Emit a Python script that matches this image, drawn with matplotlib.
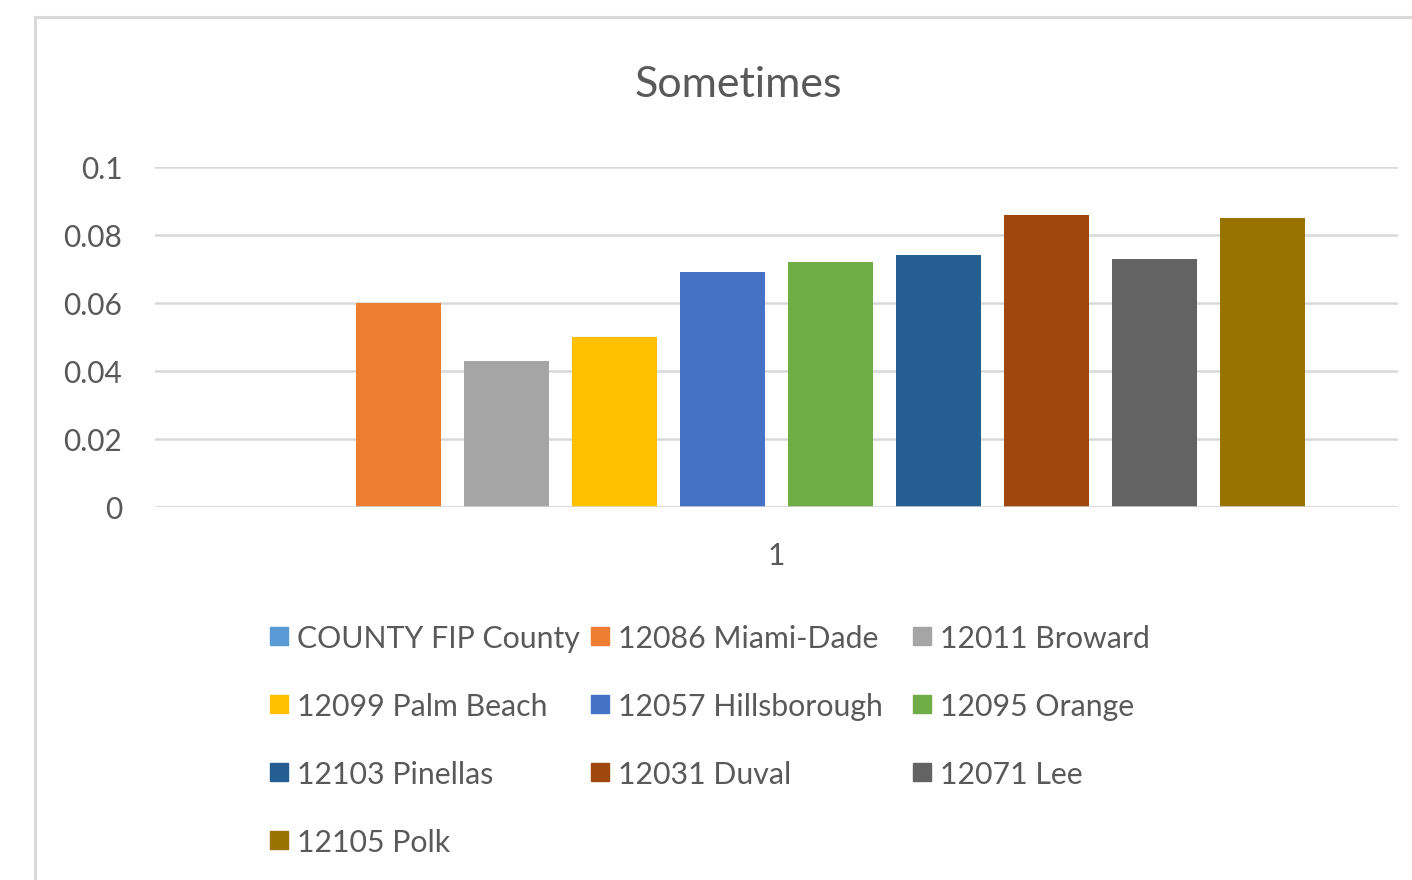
import matplotlib
matplotlib.use("Agg")
import matplotlib.pyplot as plt
from matplotlib.patches import Rectangle
from matplotlib.lines import Line2D

plt.rcParams['font.family'] = ['Lato', 'DejaVu Sans']

title = "Sometimes"
categories = ["1"]
series_names = ["COUNTY FIP County", "12086 Miami-Dade", "12011 Broward",
                "12099 Palm Beach", "12057 Hillsborough", "12095 Orange",
                "12103 Pinellas", "12031 Duval", "12071 Lee", "12105 Polk"]
values = [0.0, 0.060, 0.043, 0.050, 0.069, 0.072, 0.074, 0.086, 0.073, 0.085]
colors = ["#5B9BD5", "#ED7D31", "#A5A5A5", "#FFC000", "#4472C4", "#70AD47",
          "#255E91", "#9E480E", "#636363", "#997300"]
yticks = [0, 0.02, 0.04, 0.06, 0.08, 0.1]
ytick_labels = ["0", "0.02", "0.04", "0.06", "0.08", "0.1"]

W, H = 1412, 880
fig = plt.figure(figsize=(W / 100, H / 100), dpi=100)
txt = "#595959"
grid = "#D9D9D9"

# chart area border
fig.add_artist(Line2D([35 / W, 35 / W], [0, 1 - 17 / H], color=grid, lw=2.2,
                      transform=fig.transFigure))
fig.add_artist(Line2D([35 / W, 1], [1 - 17 / H, 1 - 17 / H], color=grid, lw=2.2,
                      transform=fig.transFigure))

ax = fig.add_axes([155 / W, 1 - 507 / H, (1398 - 155) / W, 340 / H])
n = len(series_names)
step = 1.0
half = (1398 - 155) / 108 / 2
for i, (name, v, c) in enumerate(zip(series_names, values, colors)):
    ax.bar((i - (n - 1) / 2) * step, v, width=0.79, color=c, zorder=3, label=name)

ax.set_xlim(-half, half)
ax.set_ylim(0, 0.1)
ax.set_yticks(yticks)
ax.set_yticklabels(ytick_labels)
ax.set_xticks([0])
ax.set_xticklabels(categories)
for s in ax.spines.values():
    s.set_visible(False)
ax.grid(axis='y', color=grid, lw=1.8, zorder=0)
ax.axhline(0, color=grid, lw=1.8, zorder=4)
ax.tick_params(axis='y', length=0, pad=23.5, labelsize=21.5, labelcolor=txt)
ax.tick_params(axis='x', length=0, pad=25.5, labelsize=21.5, labelcolor=txt)

fig.text(738 / W, 1 - 85 / H, title, ha='center', va='center', fontsize=31, color=txt)

# legend (row-major, 3 columns)
col_x = [270, 591, 913]
row_y = [636, 704, 772, 840]
sq = 18
for i, (name, c) in enumerate(zip(series_names, colors)):
    r, col = divmod(i, 3)
    x0, y0 = col_x[col], row_y[r]
    fig.add_artist(Rectangle((x0 / W, 1 - (y0 + sq / 2) / H), sq / W, sq / H,
                             color=c, transform=fig.transFigure))
    fig.text((x0 + sq + 9) / W, 1 - y0 / H, name, ha='left', va='center_baseline',
             fontsize=21.8, color=txt)

fig.savefig("out.png", dpi=100)
